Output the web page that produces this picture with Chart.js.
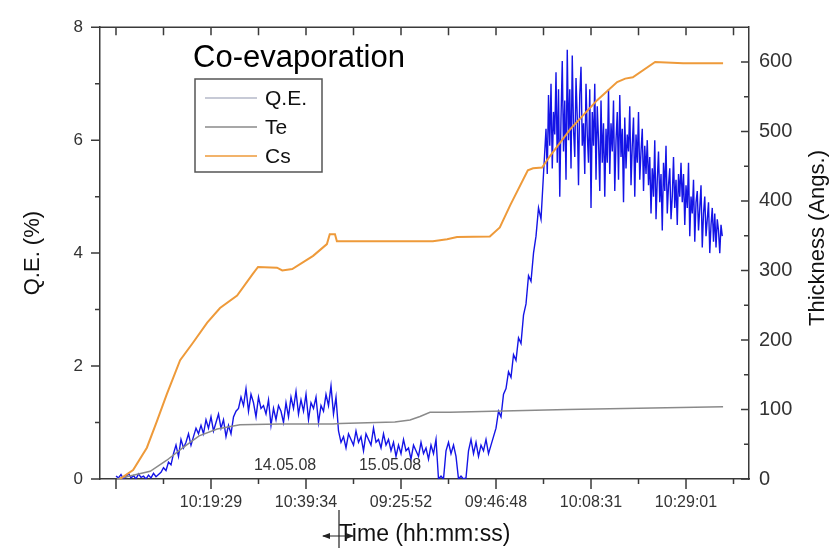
<!DOCTYPE html>
<html>
<head>
<meta charset="utf-8">
<script src="https://cdn.jsdelivr.net/npm/chart.js@4.4.1/dist/chart.umd.min.js"></script>
<style>
  html, body { margin: 0; padding: 0; background: #fff; }
</style>
</head>
<body>
<canvas id="chart" width="833" height="548"></canvas>
<script>
// x is measured in tick steps; every second tick carries a time label
const tickLabels = ['', '', '10:19:29', '', '10:39:34', '', '09:25:52', '', '09:46:48', '', '10:08:31', '', '10:29:01', ''];
const qeTicks = [0, 2, 4, 6, 8];
const thickTicks = [0, 100, 200, 300, 400, 500, 600];

// Q.E. (%) read every 1/19 tick step from x = 0 ...
const qeStep = 1 / 19;
const qeValues = [
  0.05,0.02,0.08,0.0,0.04,0.1,0.02,0.06,0.0,0.09,0.03,0.05,0.0,0.07,0.02,0.1,0.04,0.08,0.12,
  0.2,0.15,0.3,0.25,0.45,0.6,0.4,0.7,0.55,0.65,0.8,0.6,0.75,0.9,0.8,
  0.95,0.8,1.05,0.9,1.1,0.85,1.0,1.15,0.9,1.05,0.75,0.95,0.8,1.1,1.2,
  1.25,1.45,1.3,1.6,1.2,1.5,1.35,1.1,1.45,1.25,1.3,1.15,1.4,0.95,1.25,1.05,1.3,1.2,1.0,1.35,
  1.1,1.45,1.25,1.55,1.15,1.4,1.2,1.5,1.05,1.35,1.25,1.45,1.0,1.3,1.2,1.5,1.3,1.65,1.15,1.45,
  0.85,0.65,0.75,0.55,0.8,0.7,0.6,0.85,0.65,0.75,0.5,0.8,0.7,0.6,0.9,0.65,0.7,0.55,0.8,0.6,0.7,
  0.5,0.65,0.4,0.6,0.45,0.7,0.5,0.55,0.35,0.6,0.5,0.4,0.65,0.45,0.55,0.35,0.6,0.45,0.7,
  0.0,0.05,0.0,0.5,0.65,0.45,0.6,0.4,0.0,0.05,0.0,0.02,
  0.5,0.7,0.45,0.65,0.4,0.6,0.5,0.7,0.45,0.6,
  0.75,0.9,1.2,1.1,1.5,1.6,1.9,1.8,2.2,2.1,2.5,2.4,2.9,3.1,3.6,3.5,4.0,4.3,4.8,4.6,5.4
];
// ... and every 1/38 tick step over the noisy peak, continuing after the list above
const qeFineStep = 1 / 38;
const qeFineValues = [
  6.2,5.4,6.8,5.9,7.0,5.5,6.5,6.1,7.2,5.6,6.9,5.0,6.4,7.4,5.8,6.7,5.3,7.6,6.0,6.9,
  5.5,7.5,6.2,5.7,7.1,6.4,5.2,6.8,7.3,5.9,6.3,5.4,7.0,6.1,5.6,6.9,4.8,6.5,5.9,7.0,
  5.3,6.6,6.0,5.1,6.7,5.6,6.3,5.0,6.2,
  5.6,6.9,5.4,6.3,5.8,6.7,5.1,6.0,6.5,5.3,6.8,5.7,6.2,4.9,6.4,5.5,6.1,5.8,6.6,5.2,
  5.9,6.4,5.0,6.1,5.6,6.5,5.3,5.8,6.2,5.1,5.9,5.4,6.0,5.2,
  5.7,4.7,5.5,5.0,6.0,4.6,5.3,5.8,4.9,5.4,4.4,5.6,5.1,5.9,4.7,5.2,5.5,4.6,5.0,5.7,
  4.8,5.3,4.5,5.4,5.0,5.6,
  4.9,5.4,4.5,5.2,4.8,5.6,4.3,5.0,4.7,5.3,4.2,4.9,5.1,4.4,4.8,5.2,4.1,4.7,5.0,4.3,
  4.6,4.9,4.0,4.5,4.8,4.2,4.7,4.1,4.6,4.4,4.0,4.5,4.3
];

// thickness (Angs.)
const teX = [0.02, 0.72, 1.07, 1.41, 1.75, 2.13, 2.61, 3.45, 4.57, 4.72, 5.87, 6.19, 6.4, 6.61, 7.03, 9.5, 12.78];
const teValues = [0, 11, 27, 45, 62, 72, 78, 79, 79, 80, 82, 85, 90, 96, 96, 100, 104];

const csX = [0.08, 0.36, 0.65, 0.86, 1.07, 1.35, 1.62, 1.92, 2.19, 2.55, 2.88, 2.99, 3.39, 3.5, 3.71, 4.15, 4.44, 4.5, 4.61, 4.65,
  5.28, 6.67, 6.97, 7.18, 7.87, 8.08, 8.3, 8.67, 8.78, 8.97, 9.14, 9.56, 10.13, 10.55, 10.72, 10.88, 11.35, 11.94, 12.78];
const csValues = [0, 13, 45, 83, 122, 171, 196, 225, 246, 264, 295, 305, 304, 300, 302, 321, 338, 352, 352, 342,
  342, 342, 345, 348, 349, 362, 394, 444, 447, 448, 465, 503, 545, 571, 576, 578, 600, 598, 598];

const dateLabels = ['14.05.08', '15.05.08'];
const dateX = [3.56, 5.77];
const dateY = 0.23;

const seriesNames = ['Q.E.', 'Te', 'Cs'];
const lineColors = ['#1414e6', '#8a8a8a', '#ee9a3a'];
const legendColors = ['#b4b8c8', '#8a8a8a', '#ee9a3a'];

const FONT = '"Liberation Sans", Arial, Helvetica, sans-serif';
const AXIS = '#3a3a3a';

const qePoints = qeValues.map((v, i) => ({ x: i * qeStep, y: v }));
const fineStart = qeValues.length * qeStep;
qeFineValues.forEach((v, i) => qePoints.push({ x: fineStart + i * qeFineStep, y: v }));

const extras = {
  id: 'extras',
  afterDraw(chart) {
    const ctx = chart.ctx;
    const a = chart.chartArea;
    const x = chart.scales.x, y = chart.scales.y, y2 = chart.scales.y2;
    ctx.save();
    ctx.strokeStyle = AXIS;
    ctx.lineWidth = 1.5;
    ctx.beginPath();
    ctx.moveTo(a.left, a.top); ctx.lineTo(a.right, a.top);
    // left ticks, outward
    for (let v = 0; v <= 8; v++) {
      const py = y.getPixelForValue(v);
      ctx.moveTo(a.left, py); ctx.lineTo(a.left - (v % 2 === 0 ? 9 : 5), py);
    }
    // bottom outward, top inward
    for (let i = 0; i < tickLabels.length; i++) {
      const px = x.getPixelForValue(i);
      ctx.moveTo(px, a.bottom); ctx.lineTo(px, a.bottom + (i % 2 === 0 ? 10 : 5));
      ctx.moveTo(px, a.top); ctx.lineTo(px, a.top + 8);
    }
    // right ticks, inward
    for (let v = 0; v <= 650; v += 50) {
      const py = y2.getPixelForValue(v);
      ctx.moveTo(a.right, py); ctx.lineTo(a.right - (v % 100 === 0 ? 8 : 5), py);
    }
    ctx.stroke();

    // right axis title, reading upward
    ctx.save();
    ctx.translate(818, 238);
    ctx.rotate(-Math.PI / 2);
    ctx.font = '22px ' + FONT;
    ctx.fillStyle = '#111';
    ctx.textAlign = 'center';
    ctx.textBaseline = 'middle';
    ctx.fillText('Thickness (Angs.)', 0, 0);
    ctx.restore();

    // title
    ctx.fillStyle = '#000';
    ctx.font = '31px ' + FONT;
    ctx.textAlign = 'left';
    ctx.textBaseline = 'alphabetic';
    ctx.fillText('Co-evaporation', 193, 67);

    // legend
    ctx.strokeStyle = '#555';
    ctx.lineWidth = 1.5;
    ctx.strokeRect(195, 79, 127, 93);
    ctx.font = '21px ' + FONT;
    ctx.textBaseline = 'middle';
    seriesNames.forEach((name, i) => {
      const ly = 98 + i * 29;
      ctx.strokeStyle = legendColors[i];
      ctx.lineWidth = 1.5;
      ctx.beginPath(); ctx.moveTo(205, ly); ctx.lineTo(257, ly); ctx.stroke();
      ctx.fillStyle = '#111';
      ctx.fillText(name, 265, ly + 1);
    });

    // dates
    ctx.font = '16px ' + FONT;
    ctx.fillStyle = '#333';
    ctx.textAlign = 'center';
    dateLabels.forEach((d, i) => {
      ctx.fillText(d, x.getPixelForValue(dateX[i]), y.getPixelForValue(dateY));
    });

    // day break marker under the axis
    const bx = 339, by = 536;
    ctx.strokeStyle = '#222';
    ctx.lineWidth = 1.2;
    ctx.beginPath();
    ctx.moveTo(bx, 510); ctx.lineTo(bx, 548);
    ctx.moveTo(323, by); ctx.lineTo(353, by);
    ctx.stroke();
    ctx.fillStyle = '#222';
    ctx.beginPath();
    ctx.moveTo(322, by); ctx.lineTo(330, by - 3); ctx.lineTo(330, by + 3); ctx.closePath();
    ctx.moveTo(354, by); ctx.lineTo(346, by - 3); ctx.lineTo(346, by + 3); ctx.closePath();
    ctx.fill();
    ctx.restore();
  }
};

new Chart(document.getElementById('chart'), {
  type: 'line',
  data: {
    datasets: [
      {
        label: seriesNames[0],
        data: qePoints,
        borderColor: lineColors[0],
        borderWidth: 1.4,
        yAxisID: 'y',
        order: 2
      },
      {
        label: seriesNames[1],
        data: teX.map((v, i) => ({ x: v, y: teValues[i] })),
        borderColor: lineColors[1],
        borderWidth: 1.5,
        yAxisID: 'y2',
        order: 1
      },
      {
        label: seriesNames[2],
        data: csX.map((v, i) => ({ x: v, y: csValues[i] })),
        borderColor: lineColors[2],
        borderWidth: 2,
        yAxisID: 'y2',
        order: 0
      }
    ]
  },
  options: {
    responsive: false,
    animation: false,
    devicePixelRatio: 1,
    layout: { padding: { top: 19, left: 0, right: 0, bottom: 0 } },
    elements: { point: { radius: 0 }, line: { tension: 0 } },
    plugins: { legend: { display: false }, tooltip: { enabled: false } },
    scales: {
      x: {
        type: 'linear',
        min: -0.3368,
        max: 13.326,
        afterBuildTicks: (s) => { s.ticks = tickLabels.map((l, i) => ({ value: i })); },
        afterFit: (s) => { s.height = 69; },
        grid: { display: false, drawTicks: false },
        border: { display: true, color: AXIS, width: 1.5 },
        ticks: {
          autoSkip: false, maxRotation: 0, padding: 14, color: '#333',
          font: { family: FONT, size: 16 },
          callback: (v) => tickLabels[v] || ''
        },
        title: { display: true, text: 'Time (hh:mm:ss)', color: '#111', font: { family: FONT, size: 23 }, padding: { top: 0, bottom: 0 } }
      },
      y: {
        position: 'left',
        min: 0,
        max: 8,
        afterBuildTicks: (s) => { s.ticks = qeTicks.map((v) => ({ value: v })); },
        afterFit: (s) => { s.width = 100; },
        grid: { display: false, drawTicks: false },
        border: { display: true, color: AXIS, width: 1.5 },
        ticks: { padding: 17, color: '#333', font: { family: FONT, size: 17 } },
        title: { display: true, text: 'Q.E. (%)', color: '#111', font: { family: FONT, size: 22 }, padding: { top: 20, bottom: 0 } }
      },
      y2: {
        position: 'right',
        min: 0,
        max: 650,
        afterBuildTicks: (s) => { s.ticks = thickTicks.map((v) => ({ value: v })); },
        afterFit: (s) => { s.width = 84; },
        grid: { display: false, drawTicks: false },
        border: { display: true, color: AXIS, width: 1.5 },
        ticks: { padding: 10, color: '#333', font: { family: FONT, size: 20 } },
        title: { display: false }
      }
    }
  },
  plugins: [extras]
});
</script>
</body>
</html>
